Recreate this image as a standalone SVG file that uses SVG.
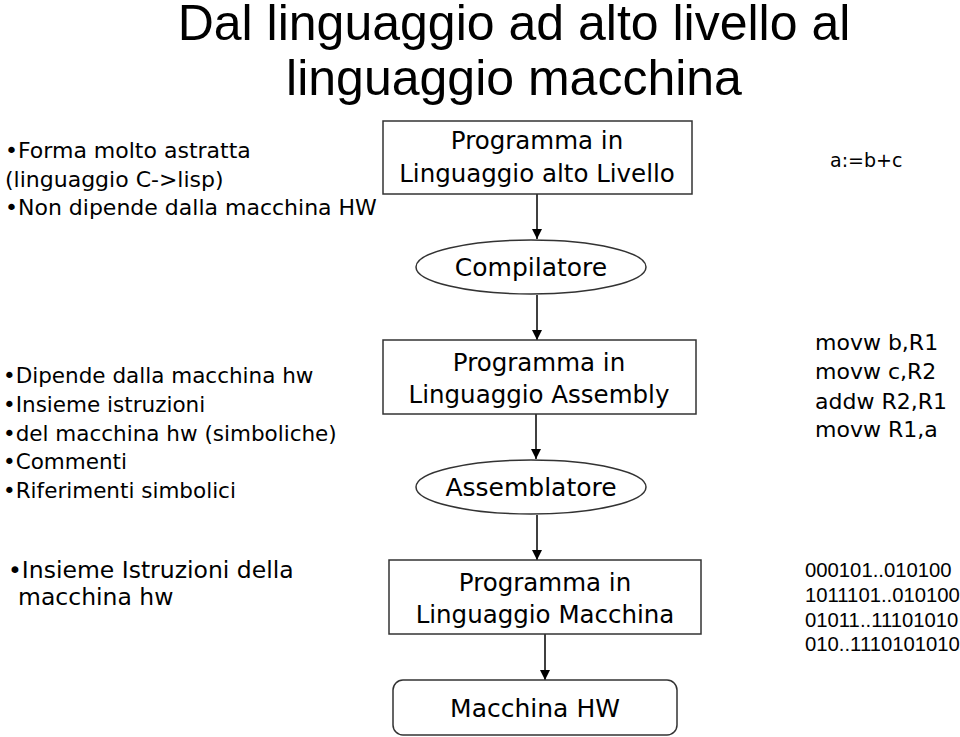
<svg xmlns="http://www.w3.org/2000/svg" width="960" height="737" viewBox="0 0 960 737">
<defs>
<marker id="ah" markerWidth="12" markerHeight="12" refX="10" refY="5" orient="auto" markerUnits="userSpaceOnUse">
<path d="M0,0 L10,5 L0,10 Z" fill="#000"/>
</marker>
<style>
.t{font-family:"DejaVu Sans","Open Sans",sans-serif;font-size:21.5px;fill:#000}
.b{font-size:24.5px}
.e{font-size:25px}
.l1{font-size:22px}
.l3{font-size:23.5px}
.r2{font-size:22px}
.r1{font-size:19px}
.bin{font-family:"Liberation Sans",Arial,sans-serif;font-size:20.3px;fill:#000}
.c{text-anchor:middle}
.title{font-family:"Liberation Sans",Arial,sans-serif;font-size:50px;fill:#000;text-anchor:middle}
.shape{fill:#fff;stroke:#333;stroke-width:1.5}
.conn{stroke:#000;stroke-width:1.5;fill:none}
</style>
</defs>
<rect width="960" height="737" fill="#fff"/>
<g id="title">
<text class="title" x="514" y="40">Dal linguaggio ad alto livello al</text>
<text class="title" x="514" y="95">linguaggio macchina</text>
</g>
<g id="connectors">
<line class="conn" x1="537" y1="194" x2="537" y2="239" marker-end="url(#ah)"/>
<line class="conn" x1="537" y1="295" x2="537" y2="340" marker-end="url(#ah)"/>
<line class="conn" x1="536" y1="414" x2="536" y2="459" marker-end="url(#ah)"/>
<line class="conn" x1="537" y1="515" x2="537" y2="560" marker-end="url(#ah)"/>
<line class="conn" x1="545" y1="634" x2="545" y2="680" marker-end="url(#ah)"/>
</g>
<g id="hll">
<rect class="shape" x="383" y="121" width="309" height="73"/>
<text class="t b c" x="537" y="149">Programma in</text>
<text class="t b c" x="537" y="182">Linguaggio alto Livello</text>
</g>
<g id="compilatore">
<ellipse class="shape" cx="531" cy="267" rx="115" ry="27"/>
<text class="t e c" x="531" y="276">Compilatore</text>
</g>
<g id="asm">
<rect class="shape" x="383" y="340" width="313" height="74"/>
<text class="t b c" x="539" y="371">Programma in</text>
<text class="t b c" x="539" y="403">Linguaggio Assembly</text>
</g>
<g id="assemblatore">
<ellipse class="shape" cx="531" cy="487" rx="115" ry="27"/>
<text class="t e c" x="531" y="496">Assemblatore</text>
</g>
<g id="mach">
<rect class="shape" x="389" y="560" width="312" height="74"/>
<text class="t b c" x="545" y="591">Programma in</text>
<text class="t b c" x="545" y="623">Linguaggio Macchina</text>
</g>
<g id="hw">
<rect class="shape" x="393" y="680" width="284" height="55" rx="10"/>
<text class="t e c" x="535" y="717">Macchina HW</text>
</g>
<g id="left1">
<text class="t l1" x="5" y="158">•Forma molto astratta</text>
<text class="t l1" x="5" y="187">(linguaggio C-&gt;lisp)</text>
<text class="t l1" x="5" y="215">•Non dipende dalla macchina HW</text>
</g>
<g id="left2">
<text class="t" x="3" y="383">•Dipende dalla macchina hw</text>
<text class="t" x="3" y="412">•Insieme istruzioni</text>
<text class="t" x="3" y="441">•del macchina hw (simboliche)</text>
<text class="t" x="3" y="469">•Commenti</text>
<text class="t" x="3" y="498">•Riferimenti simbolici</text>
</g>
<g id="left3">
<text class="t l3" x="8" y="578">•Insieme Istruzioni della</text>
<text class="t l3" x="18" y="605">macchina hw</text>
</g>
<g id="right1">
<text class="t r1" x="830" y="167">a:=b+c</text>
</g>
<g id="right2">
<text class="t r2" x="815" y="350">movw b,R1</text>
<text class="t r2" x="815" y="379">movw c,R2</text>
<text class="t r2" x="815" y="409">addw R2,R1</text>
<text class="t r2" x="815" y="437">movw R1,a</text>
</g>
<g id="right3">
<text class="bin" x="805" y="577">000101..010100</text>
<text class="bin" x="805" y="602">1011101..010100</text>
<text class="bin" x="805" y="627">01011..11101010</text>
<text class="bin" x="805" y="651">010..1110101010</text>
</g>
</svg>
